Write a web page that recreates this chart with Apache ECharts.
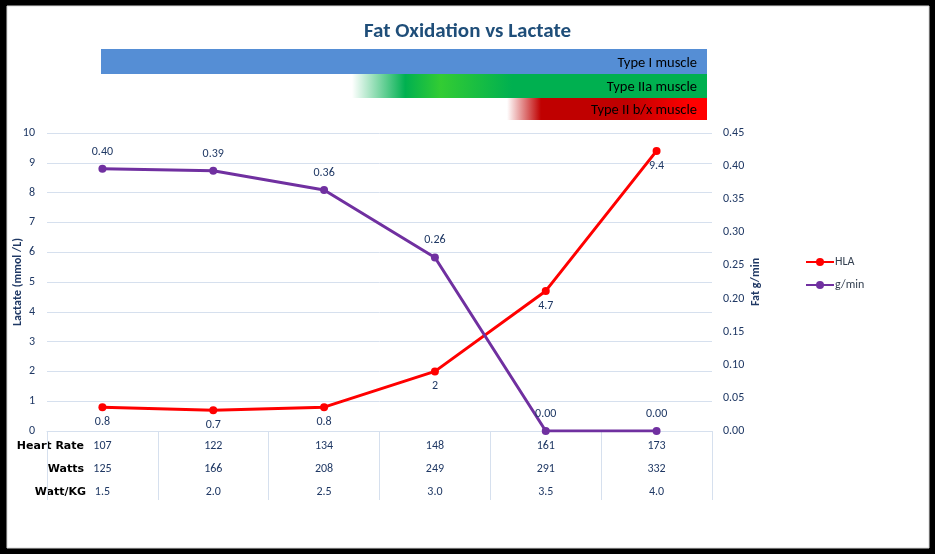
<!DOCTYPE html>
<html><head><meta charset="utf-8">
<script src="https://cdn.jsdelivr.net/npm/echarts@6/dist/echarts.min.js"></script>
<style>html,body{margin:0;padding:0;background:#000;}#c{width:935px;height:554px;}</style>
</head><body><div id="c"></div>
<script>
const wattKg = ['1.5','2.0','2.5','3.0','3.5','4.0'];
const heartRate = [107,122,134,148,161,173];
const watts = [125,166,208,249,291,332];
const hla = [0.8,0.7,0.8,2,4.7,9.4];
const fatGmin = [0.396,0.393,0.364,0.262,0,0];
const lactateTicks = {min:0,max:10,interval:1};
const fatTicks = {min:0,max:0.45,interval:0.05};
const rowLabels = ['Heart Rate','Watts','Watt/KG'];
const bandLabels = ['Type I muscle','Type IIa muscle','Type II b/x muscle'];

const NUM = "Carlito, Calibri, 'Open Sans', sans-serif";
const TXT = '#1f3864';
const GRIDC = '#d6e0ee';
const ROWF = "'DejaVu Sans', sans-serif";

const chart = echarts.init(document.getElementById('c'), null, {renderer:'canvas'});
chart.setOption({
  backgroundColor:'#000',
  animation:false,
  title:{text:'Fat Oxidation vs Lactate', left:'center', top:16,
    textStyle:{fontFamily:"Carlito, Calibri, 'Liberation Sans Narrow', sans-serif", fontWeight:'bold', fontSize:21, color:'#1f4e79'}},
  legend:{orient:'vertical', left:800, top:251, itemGap:11, itemWidth:28, itemHeight:10,
    textStyle:{fontFamily:NUM, fontSize:12, color:'#333f50', padding:[0,0,0,-4]},
    data:['HLA','g/min']},
  grid:{left:47, right:223, top:133, bottom:123, outerBoundsMode:'none', containLabel:false},
  graphic:[
    {type:'rect', z:-10, shape:{x:7,y:6,width:922,height:542}, style:{fill:'#fff', stroke:'#d9d9d9', lineWidth:1}},
    {type:'rect', shape:{x:101,y:49,width:606,height:25}, style:{fill:'#558ed5'}},
    {type:'rect', shape:{x:352,y:74,width:355,height:24}, style:{fill:new echarts.graphic.LinearGradient(0,0,1,0,[
      {offset:0,color:'rgba(0,176,80,0)'},{offset:0.15,color:'#00b050'},{offset:0.25,color:'#33cc33'},{offset:0.45,color:'#00b050'},{offset:1,color:'#00b050'}])}},
    {type:'rect', shape:{x:507,y:98,width:200,height:22}, style:{fill:new echarts.graphic.LinearGradient(0,0,1,0,[
      {offset:0,color:'rgba(192,0,0,0)'},{offset:0.17,color:'#c00000'},{offset:0.6,color:'#c00000'},{offset:0.92,color:'#ff0000'},{offset:1,color:'#ff0000'}])}},
    {type:'text', style:{text:bandLabels[0], x:697, y:63, align:'right', verticalAlign:'middle', fontFamily:NUM, fontSize:14.5, fill:'#000'}},
    {type:'text', style:{text:bandLabels[1], x:697, y:87, align:'right', verticalAlign:'middle', fontFamily:NUM, fontSize:14.5, fill:'#000'}},
    {type:'text', style:{text:bandLabels[2], x:697, y:110, align:'right', verticalAlign:'middle', fontFamily:NUM, fontSize:14.5, fill:'#000'}},
    {type:'text', style:{text:rowLabels[0], x:84, y:446, align:'right', verticalAlign:'middle', fontFamily:ROWF, fontWeight:'bold', fontSize:11, fill:'#000'}},
    {type:'text', style:{text:rowLabels[1], x:84, y:469, align:'right', verticalAlign:'middle', fontFamily:ROWF, fontWeight:'bold', fontSize:11, fill:'#000'}},
    {type:'text', style:{text:rowLabels[2], x:86, y:492, align:'right', verticalAlign:'middle', fontFamily:ROWF, fontWeight:'bold', fontSize:11, fill:'#000'}}
  ],
  xAxis:{type:'category', data:wattKg, boundaryGap:true,
    axisLine:{lineStyle:{color:GRIDC, width:1}},
    axisTick:{show:true, length:69, lineStyle:{color:GRIDC}},
    axisLabel:{margin:3, interval:0, lineHeight:23, fontFamily:NUM, fontSize:12, color:TXT,
      formatter:(v,i)=> heartRate[i]+'\n'+watts[i]+'\n'+v}},
  yAxis:[
    {type:'value', min:lactateTicks.min, max:lactateTicks.max, interval:lactateTicks.interval,
     name:'Lactate (mmol /L)', nameLocation:'middle', nameGap:23, nameRotate:90, nameMoveOverlap:false,
     nameTextStyle:{fontFamily:NUM, fontWeight:'bold', fontSize:12, color:TXT},
     axisLine:{show:false}, axisTick:{show:false},
     axisLabel:{margin:12, fontFamily:NUM, fontSize:12, color:TXT},
     splitLine:{lineStyle:{color:GRIDC}}},
    {type:'value', min:fatTicks.min, max:fatTicks.max, interval:fatTicks.interval, position:'right',
     name:'Fat g/min', nameLocation:'middle', nameGap:38, nameRotate:90, nameMoveOverlap:false,
     nameTextStyle:{fontFamily:NUM, fontWeight:'bold', fontSize:12, color:TXT},
     axisLine:{show:false}, axisTick:{show:false},
     axisLabel:{margin:11, fontFamily:NUM, fontSize:12, color:TXT, formatter:v=>v.toFixed(2)},
     splitLine:{show:false}}
  ],
  series:[
    {name:'HLA', type:'line', yAxisIndex:0, data:hla, color:'#ff0000',
     symbol:'circle', symbolSize:8, lineStyle:{width:3, color:'#ff0000'}, itemStyle:{color:'#ff0000'},
     label:{show:true, position:'bottom', distance:5, fontFamily:NUM, fontSize:12, color:TXT}},
    {name:'g/min', type:'line', yAxisIndex:1, data:fatGmin, color:'#7030a0',
     symbol:'circle', symbolSize:8, lineStyle:{width:3, color:'#7030a0'}, itemStyle:{color:'#7030a0'},
     label:{show:true, position:'top', distance:7, fontFamily:NUM, fontSize:12, color:TXT, formatter:p=>p.value.toFixed(2)}}
  ]
});
</script></body></html>
